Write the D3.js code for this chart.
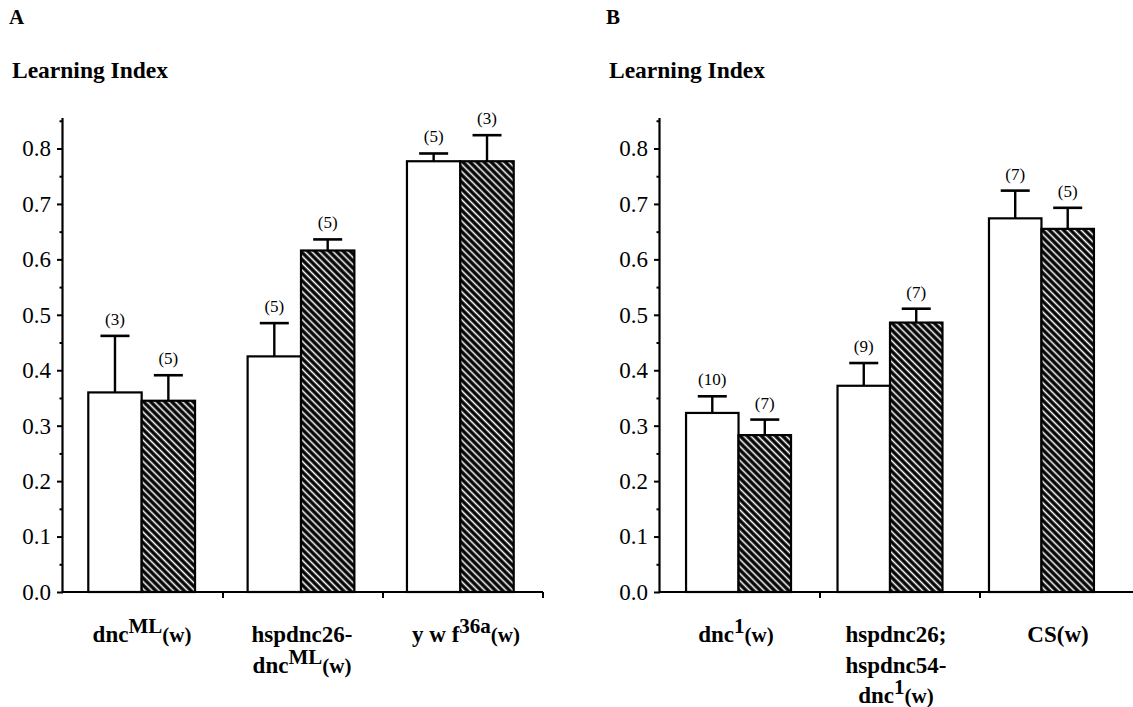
<!DOCTYPE html>
<html><head><meta charset="utf-8">
<script src="https://cdn.jsdelivr.net/npm/d3@7"></script>
<style>
html,body{margin:0;padding:0;background:#fff;}
svg{display:block;}
svg text, svg tspan{font-family:"Liberation Serif","Times New Roman",Times,"DejaVu Serif",serif !important;fill:#000;}
</style></head>
<body>
<svg id="chart" width="1133" height="707"></svg>
<script>
// ---------------- data ----------------
const panelLetters = ["A", "B"];
const yTitle = "Learning Index";
const yTicks = [0, 0.1, 0.2, 0.3, 0.4, 0.5, 0.6, 0.7, 0.8];
const yMinorTicks = [0.05, 0.15, 0.25, 0.35, 0.45, 0.55, 0.65, 0.75, 0.85];
const series = ["control", "heat"];

// Panel A
const categoriesA = ["dncML(w)", "hspdnc26-dncML(w)", "y w f36a(w)"];
const labelLinesA = [
  [[["dnc",""],["ML","sup"],["(w)",""]]],
  [[["hspdnc26-",""]], [["dnc",""],["ML","sup"],["(w)",""]]],
  [[["y w f",""],["36a","sup"],["(w)",""]]]
];
const valuesA_control = [0.360, 0.425, 0.777];
const errorsA_control = [0.102, 0.060, 0.014];
const nA_control = ["(3)", "(5)", "(5)"];
const valuesA_heat = [0.345, 0.616, 0.777];
const errorsA_heat = [0.046, 0.020, 0.047];
const nA_heat = ["(5)", "(5)", "(3)"];

// Panel B
const categoriesB = ["dnc1(w)", "hspdnc26;hspdnc54-dnc1(w)", "CS(w)"];
const labelLinesB = [
  [[["dnc",""],["1","sup"],["(w)",""]]],
  [[["hspdnc26;",""]], [["hspdnc54-",""]], [["dnc",""],["1","sup"],["(w)",""]]],
  [[["CS(w)",""]]]
];
const valuesB_control = [0.323, 0.372, 0.674];
const errorsB_control = [0.030, 0.041, 0.050];
const nB_control = ["(10)", "(9)", "(7)"];
const valuesB_heat = [0.283, 0.486, 0.655];
const errorsB_heat = [0.028, 0.025, 0.038];
const nB_heat = ["(7)", "(7)", "(5)"];

// ---------------- drawing ----------------
const FONT = '"Liberation Serif","Times New Roman",Times,serif';
const svg = d3.select("#chart");
const defs = svg.append("defs");
const pat = defs.append("pattern").attr("id","hatch")
  .attr("patternUnits","userSpaceOnUse").attr("width",5).attr("height",5)
  .attr("patternTransform","rotate(-45)");
pat.append("rect").attr("width",5).attr("height",5).attr("fill","#000");
pat.append("line").attr("x1",2.5).attr("y1",0).attr("x2",2.5).attr("y2",5)
  .attr("stroke","#fff").attr("stroke-width",1.6);

function txt(sel){ return sel.style("font-family", FONT).attr("fill","#000"); }

function buildPanel(cfg){
  const g = svg.append("g").attr("font-family", FONT);
  const y = d3.scaleLinear().domain([0, 0.855]).range([592, 118]);
  const xTick = d3.scaleBand().domain(cfg.categories).range(cfg.tickRange).padding(0);
  const xGroup = d3.scaleBand().domain(cfg.categories).range(cfg.groupRange)
    .paddingInner(cfg.pInner).paddingOuter(cfg.pOuter);
  const xSub = d3.scaleBand().domain(series).range([0, xGroup.bandwidth()]);

  // letter and title
  txt(g.append("text").attr("x", cfg.letterX).attr("y", 24).attr("font-size", 21)
    .attr("font-weight","bold").text(cfg.letter));
  txt(g.append("text").attr("x", cfg.titleX).attr("y", 78).attr("font-size", 23.5)
    .attr("font-weight","bold").text(yTitle));

  const x0 = cfg.tickRange[0];

  // bars
  const data = cfg.categories.map((c,i)=>({
    cat:c,
    vals:[
      {s:"control", v:cfg.control[i], e:cfg.errControl[i], n:cfg.nControl[i]},
      {s:"heat", v:cfg.heat[i], e:cfg.errHeat[i], n:cfg.nHeat[i]}
    ]
  }));
  const grp = g.selectAll(".grp").data(data).enter().append("g")
    .attr("transform", d=>`translate(${xGroup(d.cat)},0)`);
  const item = grp.selectAll(".bar").data(d=>d.vals).enter().append("g");
  item.append("line")
    .attr("x1", d=>xSub(d.s)+xSub.bandwidth()/2).attr("x2", d=>xSub(d.s)+xSub.bandwidth()/2)
    .attr("y1", d=>y(d.v)).attr("y2", d=>y(d.v+d.e))
    .attr("stroke","#000").attr("stroke-width",2.4);
  item.append("line")
    .attr("x1", d=>xSub(d.s)+xSub.bandwidth()/2-14.5).attr("x2", d=>xSub(d.s)+xSub.bandwidth()/2+14.5)
    .attr("y1", d=>y(d.v+d.e)).attr("y2", d=>y(d.v+d.e))
    .attr("stroke","#000").attr("stroke-width",2.6);
  item.append("rect")
    .attr("x", d=>xSub(d.s)).attr("width", xSub.bandwidth())
    .attr("y", d=>y(d.v)).attr("height", d=>y(0)-y(d.v))
    .attr("fill", d=>d.s==="control" ? "#fff" : "url(#hatch)")
    .attr("stroke","#000").attr("stroke-width",2.2);
  txt(item.append("text")
    .attr("x", d=>xSub(d.s)+xSub.bandwidth()/2)
    .attr("y", d=>y(d.v+d.e)-11)
    .attr("text-anchor","middle").attr("font-size",17).text(d=>d.n));

  // y axis
  const yAxis = d3.axisLeft(y).tickValues(yTicks).tickSize(6).tickPadding(6)
    .tickFormat(d3.format(".1f"));
  const ya = g.append("g").attr("transform", `translate(${x0},0)`).call(yAxis);
  ya.attr("font-family", FONT);
  ya.select(".domain").attr("d", `M-0.5,${y(0)}V${y(0.855)}`).attr("stroke-width",2.2);
  ya.selectAll(".tick line").attr("stroke-width",2);
  txt(ya.selectAll(".tick text").attr("font-size",23));
  const ym = d3.axisLeft(y).tickValues(yMinorTicks).tickSize(3.5).tickFormat("");
  const yma = g.append("g").attr("transform", `translate(${x0},0)`).call(ym);
  yma.select(".domain").remove();
  yma.selectAll(".tick line").attr("stroke-width",2);

  // x axis
  const xa = g.append("g").attr("transform", `translate(0,${y(0)})`);
  xa.append("line").attr("x1", x0-1).attr("x2", cfg.tickRange[1])
    .attr("stroke","#000").attr("stroke-width",2.2);
  const bounds = cfg.categories.slice(1).map(c=>xTick(c)).concat([xTick(cfg.categories[cfg.categories.length-1])+xTick.bandwidth()]);
  xa.selectAll(".xt").data(bounds).enter().append("line")
    .attr("x1", d=>d).attr("x2", d=>d).attr("y1",0).attr("y2",6)
    .attr("stroke","#000").attr("stroke-width",2);

  // category labels
  cfg.labels.forEach((lines, i)=>{
    const cx = xTick(cfg.categories[i]) + xTick.bandwidth()/2 + cfg.labelShift[i];
    lines.forEach((parts, li)=>{
      const t = txt(g.append("text").attr("x", cx).attr("y", 642 + li*30.5)
        .attr("text-anchor","middle").attr("font-size",23).attr("font-weight","bold"));
      const hasSup = parts.some(q=>q[1]==="sup");
      parts.forEach(p=>{
        const ts = t.append("tspan").text(p[0]).style("font-family", FONT);
        if(p[1]==="sup"){ ts.attr("dy",-9).attr("font-size",21); }
        else if(p[0]==="(w)"){ ts.attr("dy", hasSup ? 9 : 0).attr("font-size",21); }
      });
    });
  });
}

buildPanel({
  letter: panelLetters[0], letterX: 9, titleX: 12,
  categories: categoriesA, labels: labelLinesA,
  tickRange: [63, 543], groupRange: [62, 540], pInner: 0.33, pOuter: 0.165,
  labelShift: [-1, -1, 3],
  control: valuesA_control, errControl: errorsA_control, nControl: nA_control,
  heat: valuesA_heat, errHeat: errorsA_heat, nHeat: nA_heat
});
buildPanel({
  letter: panelLetters[1], letterX: 606, titleX: 609,
  categories: categoriesB, labels: labelLinesB,
  tickRange: [660, 1140], groupRange: [660, 1120], pInner: 0.307, pOuter: 0.172,
  labelShift: [-4, -4, -2],
  control: valuesB_control, errControl: errorsB_control, nControl: nB_control,
  heat: valuesB_heat, errHeat: errorsB_heat, nHeat: nB_heat
});
</script>
</body></html>
